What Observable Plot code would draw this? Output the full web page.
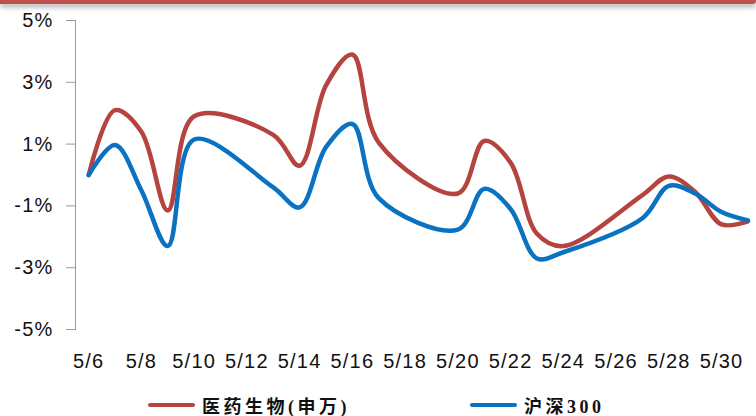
<!DOCTYPE html>
<html>
<head>
<meta charset="utf-8">
<script src="https://cdn.jsdelivr.net/npm/d3@7"></script>
<script src="https://cdn.jsdelivr.net/npm/@observablehq/plot@0.6"></script>
<style>
  html, body { margin: 0; padding: 0; background: #fff; }
  #wrap { position: relative; width: 756px; height: 416px; overflow: hidden; }
  #topbar { position: absolute; left: 0; top: 0; width: 756px; height: 4px;
            background: #c0504d; box-shadow: 0 3px 5px rgba(0,0,0,0.35);
            border-bottom-right-radius: 3px; z-index: 2; }
  #chart { position: absolute; left: 0; top: 0; }
  .legend-item { position: absolute; top: 392px; height: 26px; display: flex; align-items: center; }
  .legend-item .swatch { width: 47px; height: 4px; border-radius: 2px; margin-right: 7px; }
  .legend-item .label { font-family: "Liberation Serif", "Noto Sans CJK SC", serif; font-weight: bold;
                        font-size: 18px; letter-spacing: 3.5px; color: #111; white-space: nowrap; }
</style>
</head>
<body>
<div id="wrap">
  <div id="topbar"></div>
  <div id="chart"></div>
  <div id="legend"></div>
</div>
<script>
// Trading days of May (weekends skipped on a date axis)
const dates = [
  "2013-05-06", "2013-05-07", "2013-05-08", "2013-05-09", "2013-05-10",
  "2013-05-13", "2013-05-14", "2013-05-15", "2013-05-16", "2013-05-17",
  "2013-05-20", "2013-05-21", "2013-05-22", "2013-05-23", "2013-05-24",
  "2013-05-27", "2013-05-28", "2013-05-29", "2013-05-30", "2013-05-31"
];

// Cumulative return, %
const pharma = [0, 2.1, 1.4, -1.15, 1.9, 1.3, 0.3, 2.9, 3.9, 1.05,
                -0.6, 1.1, 0.4, -1.9, -2.3, -0.65, -0.05, -0.55, -1.6, -1.5];
const hs300 = [0, 0.97, -0.5, -2.3, 1.15, -0.4, -1.05, 0.9, 1.65, -0.75,
               -1.77, -0.45, -1.1, -2.7, -2.5, -1.4, -0.35, -0.6, -1.2, -1.47];

const seriesNames = ["医药生物(申万)", "沪深300"];
const seriesColors = ["#b5443f", "#0a72c0"];

const yTicks = [-5, -3, -1, 1, 3, 5];
const xTickLabels = ["5/6", "5/8", "5/10", "5/12", "5/14", "5/16", "5/18",
                     "5/20", "5/22", "5/24", "5/26", "5/28", "5/30"];

const parse = d3.utcParse("%Y-%m-%d");
const rows = dates.flatMap((d, i) => [
  {date: parse(d), value: pharma[i], series: seriesNames[0]},
  {date: parse(d), value: hs300[i], series: seriesNames[1]}
]);

const xTicks = xTickLabels.map(s => {
  const [m, d] = s.split("/").map(Number);
  return new Date(Date.UTC(2013, m - 1, d));
});
const fmt = d => `${d.getUTCMonth() + 1}/${d.getUTCDate()}`;

const axisFont = {fontFamily: "Liberation Sans, Arial, sans-serif", fontSize: 20};

const chart = Plot.plot({
  width: 756,
  height: 385,
  marginLeft: 75,
  marginRight: 2,
  marginTop: 20,
  marginBottom: 56,
  style: {fontFamily: "Liberation Sans, Arial, sans-serif", fontSize: "20px", letterSpacing: "1.2px", background: "transparent"},
  x: {type: "utc", domain: [new Date(Date.UTC(2013, 4, 5, 12)), new Date(Date.UTC(2013, 4, 31, 6))]},
  y: {domain: [-5, 5]},
  color: {domain: seriesNames, range: seriesColors},
  marks: [
    Plot.frame({anchor: "left", stroke: "#9a9a9a"}),
    Plot.axisY({ticks: yTicks, tickFormat: d => `${d}%`, tickSize: 9, tickPadding: 13,
                stroke: "#9a9a9a", color: "#111", label: null, ...axisFont}),
    Plot.axisX({ticks: xTicks, tickFormat: fmt, tickSize: 0, tickPadding: 24,
                color: "#111", label: null, ...axisFont}),
    Plot.line(rows, {x: "date", y: "value", z: "series", stroke: "series",
                     strokeWidth: 4.5, curve: "catmull-rom"})
  ]
});
document.getElementById("chart").appendChild(chart);

// Legend below the plot
const legendPos = [148, 470];
const legend = document.getElementById("legend");
seriesNames.forEach((name, i) => {
  const item = document.createElement("div");
  item.className = "legend-item";
  item.style.left = legendPos[i] + "px";
  item.innerHTML = `<span class="swatch" style="background:${seriesColors[i]}"></span><span class="label">${name}</span>`;
  legend.appendChild(item);
});
</script>
</body>
</html>
